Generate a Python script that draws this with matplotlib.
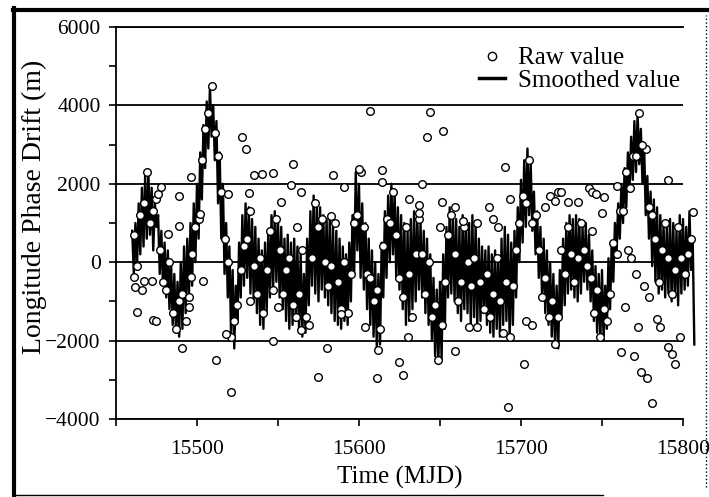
import numpy as np
import matplotlib.pyplot as plt
from matplotlib.lines import Line2D
from matplotlib.ticker import MultipleLocator

plt.rcParams['font.family'] = ['Liberation Serif', 'DejaVu Serif']

# smoothed longitude phase drift (m), one value per day from MJD 15460
smoothed = [
    800, -300, 1000, -100, 1500, 200, 1900, 400, 2200, 600,
    2300, 700, 1900, 300, 1500, 900, 1200, -300, 800, -600,
    500, -900, 300, -1200, 0, -1600, -300, -1800, -500, -1900,
    0, -1700, 400, -1300, 600, -900, 1000, -600, 1500, 0,
    2000, 600, 2800, 1600, 3500, 2400, 4100, 2900, 4500, 3200,
    4000, 2600, 3600, 1500, 2800, 600, 2000, -300, 1000, -900,
    400, -1800, -200, -2200, -600, -1500, 500, -900, 1200, -600,
    1500, -400, 1400, -800, 1100, -1000, 900, -1300, 600, -1600,
    300, -1700, 500, -1300, 800, -900, 1200, -700, 1300, -500,
    1100, -900, 900, -1200, 600, -1500, 700, -1700, 500, -1600,
    600, -1500, 400, -1700, 200, -1900, -300, -1800, 600, -1100,
    1300, -600, 1700, -800, 1500, -1000, 1400, -700, 1200, -900,
    1100, -1100, 1200, -1300, 900, -1500, 800, -1600, 600, -1700,
    400, -1500, 200, -1600, 500, -1000, 1200, -300, 2300, 300,
    2000, -400, 1500, -700, 1000, -1200, 600, -1600, 300, -1900,
    0, -2200, -300, -2100, 500, -900, 1300, -400, 1700, 0,
    2000, 200, 1800, -400, 1400, -700, 1200, -1200, 1000, -1600,
    800, -1500, 1100, -1200, 1300, -1000, 1200, -700, 1000, -900,
    800, -1300, 600, -1600, 200, -2000, -400, -2400, -700, -2600,
    -500, -2500, 200, -1700, 900, -900, 1400, -800, 1200, -1000,
    1100, -1300, 900, -1500, 1200, -1200, 1100, -1300, 1000, -1600,
    1200, -1400, 1000, -1700, 600, -1500, 400, -1300, 300, -1600,
    400, -1800, 200, -1900, 300, -1700, 100, -1900, 600, -1600,
    900, -1500, 700, -2000, 500, -1600, 800, -900, 1400, 0,
    2100, 500, 2600, 900, 2900, 1200, 2500, 800, 1800, 200,
    1300, -400, 900, -900, 600, -1300, 300, -1600, 0, -1900,
    -300, -2100, -600, -2200, -200, -1400, 600, -1100, 1000, -800,
    1200, -700, 1100, -900, 1200, -1000, 1100, -800, 900, -500,
    1000, -700, 700, -1000, 300, -1500, -100, -1800, -300, -2000,
    -200, -2000, -600, -1700, 100, -1200, 500, -500, 1000, 200,
    1500, 600, 2000, 1000, 2400, 1400, 2800, 1800, 3200, 2100,
    3600, 2300, 3800, 2500, 3400, 2000, 3000, 1200, 2200, 600,
    1800, -100, 1600, -500, 1400, -800, 1200, -700, 1000, -900,
    900, -800, 1100, -1000, 1000, -900, 800, -1100, 1200, -800,
    1100, -700, 900, -600, 1300, -200, 600, -2100,
]
mjd_smoothed = 15460 + np.arange(len(smoothed))

# raw values lying inside the smoothed band, one every 4 days from MJD 15461
raw_band_a = [
    700, 1200, 2300, 1300, 300, -700, -1300, -1000, -1500, 200,
    1100, 3400, 4500, 2700, 600, -1900, -1100, 400, 1300, -800,
    -1300, 800, 1100, -800, 100, -1400, 300, -1600, 1500, 1100,
    -600, 1000, -1200, -1300, 1000, 2300, -300, -1000, -1700, 1100,
    1800, -400, 900, -1400, 1100, -800, -1400, -2500, -500, 1200,
    -1000, 900, -600, 1000, -1200, -1400, 100, -1800, -1900, 300,
    1700, 2600, 1200, -900, -1400, -2100, 300, 900, -500, 1000,
    -100, -1300, -1900, -1500, 500, 1300, 2300, 2700, 3800, 2900,
    1200, -500, 1000, -800, 900, -300, 600,
]
mjd_band_a = 15461 + 4 * np.arange(len(raw_band_a))

# more raw values inside the band, one every 4 days from MJD 15463
raw_band_b = [
    -100, 1500, 1000, 1600, -500, 0, -1700, -800, -900, 900,
    2600, 3800, 3300, 1800, 0, -1500, -200, 600, -100, 100,
    -200, -700, 300, -200, -1100, -800, -1400, 100, 900, 0,
    -100, -500, 0, -300, 1200, 900, -400, -700, 400, 1000,
    700, -900, -300, 200, 200, 0, -1100, -1600, 700, 200,
    -500, 0, 100, -500, -300, -800, -1000, -500, -600, 1000,
    1500, 1000, 300, -400, -1000, -1400, -300, 200, 100, 300,
    -400, -700, -1200, -800, 200, 1300, 1900, 2700, 3000, 1400,
    600, 300, 100, -200, 100, 200,
]
mjd_band_b = 15463 + 4 * np.arange(len(raw_band_b))

# raw values scattered away from the band
mjd_scatter = [
    15461, 15462, 15463, 15466, 15467, 15472, 15473, 15475, 15476, 15478,
    15482, 15489, 15489, 15491, 15495, 15496, 15496, 15502, 15504, 15512,
    15518, 15519, 15521, 15528, 15530, 15532, 15533, 15535, 15540, 15547,
    15547, 15550, 15552, 15558, 15559, 15564, 15564, 15562, 15575, 15580,
    15583, 15584, 15589, 15591, 15600, 15604, 15607, 15611, 15612, 15614,
    15614, 15625, 15627, 15630, 15631, 15637, 15637, 15639, 15642, 15644,
    15650, 15651, 15652, 15659, 15659, 15664, 15668, 15673, 15680, 15683,
    15686, 15690, 15692, 15693, 15702, 15703, 15707, 15715, 15718, 15721,
    15723, 15725, 15729, 15735, 15742, 15744, 15744, 15746, 15750, 15751,
    15759, 15762, 15764, 15766, 15768, 15770, 15771, 15772, 15774, 15776,
    15778, 15779, 15781, 15784, 15786, 15791, 15791, 15793, 15795, 15798,
    15806,
]
raw_scatter = [
    -380, -640, -1270, -720, -470, -470, -1480, -1490, 1740, 1910,
    720, 1700, 935, -2200, -1150, 2170, -380, 1230, -470, -2500,
    -1830, 1740, -3300, 3190, 2900, 1770, -980, 2230, 2250, 2280,
    -2000, -1150, 1540, 1960, 2510, 1780, -1740, 890, -2930, -2200,
    1190, 2220, -1320, 1910, 2370, -1660, 3860, -2950, -2240, 2360,
    2040, -2540, -2880, -1910, 1600, 1450, 1250, 1990, 3190, 3820,
    890, 1540, 3340, 1400, -2260, 1060, -1660, -1660, 1420, 1100,
    900, 2430, -3690, 1620, -2610, -1500, -1600, 1400, 1700, 1550,
    1800, 1790, 1540, 1540, 1900, 1780, 800, 1740, 1250, 1660,
    1950, -2300, -1150, 300, 100, -2400, -300, -1660, -2800, -600,
    -2950, -900, -3600, -1450, -1660, 2100, -2170, -2340, -2600, -1900,
    1280,
]

fig = plt.figure(figsize=(7.09, 4.97), dpi=100)
ax = fig.add_axes([0.1636, 0.157, 0.7997, 0.7887])

ax.plot(mjd_smoothed, smoothed, color='black', lw=1.7, zorder=3, clip_on=False)
raw_mjd = np.concatenate([mjd_band_a, mjd_band_b, mjd_scatter])
raw_val = np.concatenate([raw_band_a, raw_band_b, raw_scatter])
ax.plot(raw_mjd, raw_val, ls='none', marker='o', ms=5.5, mfc='white', mec='black',
        mew=1.0, zorder=4, clip_on=False)

ax.set_xlim(15450, 15800)
ax.set_ylim(-4000, 6000)
ax.xaxis.set_minor_locator(MultipleLocator(50))
ax.yaxis.set_major_locator(MultipleLocator(2000))
ax.yaxis.set_minor_locator(MultipleLocator(1000))
ax.set_xticks([15500, 15600, 15700, 15800])
ax.grid(axis='y', which='major', color='black', lw=1.3, zorder=1)

for s in ['left', 'bottom', 'top']:
    ax.spines[s].set_linewidth(1.3)
ax.spines['right'].set_visible(False)

ax.tick_params(which='both', direction='out', length=5, width=1.2, labelsize=15.5)
ax.tick_params(axis='x', pad=10)
ax.tick_params(axis='y', pad=6)

ax.set_xlabel('Time (MJD)', fontsize=18, labelpad=5)
ax.set_ylabel('Longitude Phase Drift (m)', fontsize=20)
ax.yaxis.set_label_coords(-0.122, 0.54)

handles = [
    Line2D([], [], ls='none', marker='o', ms=6, mfc='white', mec='black', mew=1),
    Line2D([], [], color='black', lw=2.5),
]
ax.legend(handles, ['Raw value', 'Smoothed value'], loc='center',
          bbox_to_anchor=(0.8175, 0.8916), frameon=False, fontsize=18,
          labelspacing=0, handlelength=1.05, handletextpad=0.5,
          borderpad=0, borderaxespad=0)

# scanned page frame
fig.add_artist(Line2D([0.0197, 0.0197], [0.0, 0.984], transform=fig.transFigure,
                      color='black', lw=3))
fig.add_artist(Line2D([0.018, 1.0], [0.98, 0.98], transform=fig.transFigure,
                      color='black', lw=3))
fig.add_artist(Line2D([0.018, 0.85], [0.004, 0.004], transform=fig.transFigure,
                      color='black', lw=1))
fig.add_artist(Line2D([0.996, 0.996], [0.02, 0.97], transform=fig.transFigure,
                      color='black', lw=1, ls=':'))

fig.savefig('out.png', dpi=100)
